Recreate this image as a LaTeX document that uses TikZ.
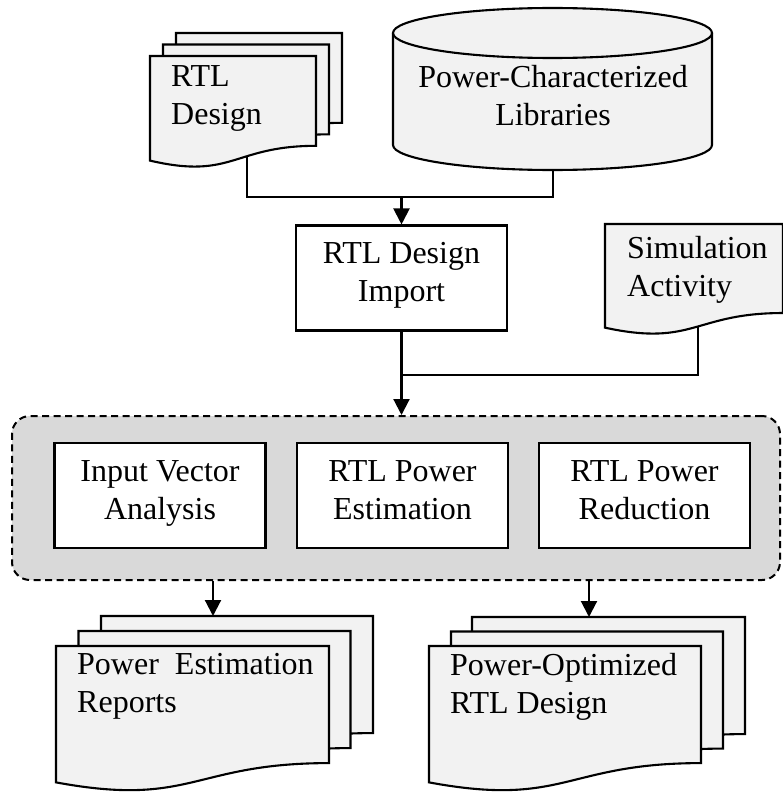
\documentclass[tikz,border=0pt]{standalone}
\usepackage{fontspec}
\setmainfont{Liberation Serif}
\usetikzlibrary{arrows.meta}
\pgfdeclarelayer{bg}
\pgfsetlayers{bg,main}
\definecolor{sheetgray}{RGB}{242,242,242}
\definecolor{panelgray}{RGB}{217,217,217}
\tikzset{
  line/.style={line width=2.1pt},
  wire/.style={line},
  arr/.style={line, -{Triangle[width=16pt,length=16pt]}},
  sheet/.style={line, fill=sheetgray, line join=miter},
  txt/.style={font=\fontsize{32}{38}\selectfont, inner sep=0pt,
    execute at begin node=\strut, execute at end node=\strut},
  procbox/.style={txt, draw, line width=2.1pt, fill=white, align=center,
    minimum width=211pt, minimum height=105pt},
  panel/.style={draw, line width=2pt, dash pattern=on 7pt off 4.5pt,
    fill=panelgray, rounded corners=18pt, minimum width=768pt,
    minimum height=164pt, inner sep=0pt},
}
% document sheet with a wavy bottom edge: left x, top y, width, height
\newcommand\docsheet[4]{%
  \filldraw[sheet] (#1,#2) -- ({#1+#3},#2) -- ({#1+#3},{#2+0.802*#4})
    .. controls ({#1+0.5*#3},{#2+0.802*#4}) and ({#1+0.5*#3},{#2+1.1075*#4})
    .. (#1,{#2+0.934*#4}) -- cycle;}

\begin{document}
\begin{tikzpicture}[x=1pt,y=-1pt]
\useasboundingbox (0,0) rectangle (782,792);

% RTL design input (stack of sheets)
\docsheet{176}{33}{166}{112}
\docsheet{163}{44.5}{166}{112}
\docsheet{150}{56}{166}{112}
\node[txt, align=left, anchor=north west] (rtl) at (171,65.4) {RTL\\Design};

% library database
\fill[sheetgray] (393,33) -- (393,145)
  .. controls (393,158.8) and (464.4,170) .. (552.5,170)
  .. controls (640.6,170) and (712,158.8) .. (712,145) -- (712,33) -- cycle;
\draw[line] (393,33) -- (393,145)
  .. controls (393,158.8) and (464.4,170) .. (552.5,170)
  .. controls (640.6,170) and (712,158.8) .. (712,145) -- (712,33);
\filldraw[sheet] (552.5,33) ellipse [x radius=159.5, y radius=25];
\node[txt, align=center, anchor=north] (lib) at (553,65.4) {Power-Characterized\\Libraries};

% import step
\node[procbox] (imp) at (401.5,278) {RTL Design\\Import};

% simulation activity
\docsheet{605}{224}{178}{111}
\node[txt, align=left, anchor=north west] (sim) at (627,236.4) {Simulation\\Activity};

% analysis panel
\node[panel] (grp) at (396,498) {};
\node[procbox] (iva) at (160,495.5) {Input Vector\\Analysis};
\node[procbox] (est) at (402.5,495.5) {RTL Power\\Estimation};
\node[procbox] (red) at (644.5,495.5) {RTL Power\\Reduction};

% outputs
\docsheet{101}{616}{272}{146}
\docsheet{78.5}{631}{272}{146}
\docsheet{56}{646}{273}{146}
\node[txt, align=left, anchor=north west] (rep) at (77,653.4) {Power\hspace{16pt}Estimation\\Reports};

\docsheet{472}{617}{273}{146}
\docsheet{451}{631.5}{272}{146}
\docsheet{429}{646}{272}{146}
\node[txt, align=left, anchor=north west] (opt) at (450,653.4) {Power-Optimized\\RTL Design};

% connectors
\coordinate (rtlout) at (246.7,150);
\coordinate (libout) at (553,160);
\coordinate (simout) at (698,318);
\coordinate (row1) at (0,197);
\coordinate (row2) at (0,375);
\coordinate (repin) at (213,616);
\coordinate (optin) at (589,617);
\coordinate (j1) at (imp.north |- row1);
\coordinate (j2) at (imp.south |- row2);
\begin{pgfonlayer}{bg}
  \draw[wire] (rtlout) |- (j1);
  \draw[wire] (libout) |- (j1);
  \draw[arr] (j1) -- (imp.north);
  \draw[wire] (simout) |- (j2);
  \draw[arr] (imp.south) -- (imp.south |- grp.north);
  \draw[arr] (repin |- grp.south) -- (repin);
  \draw[arr] (optin |- grp.south) -- (optin);
\end{pgfonlayer}
\end{tikzpicture}
\end{document}
